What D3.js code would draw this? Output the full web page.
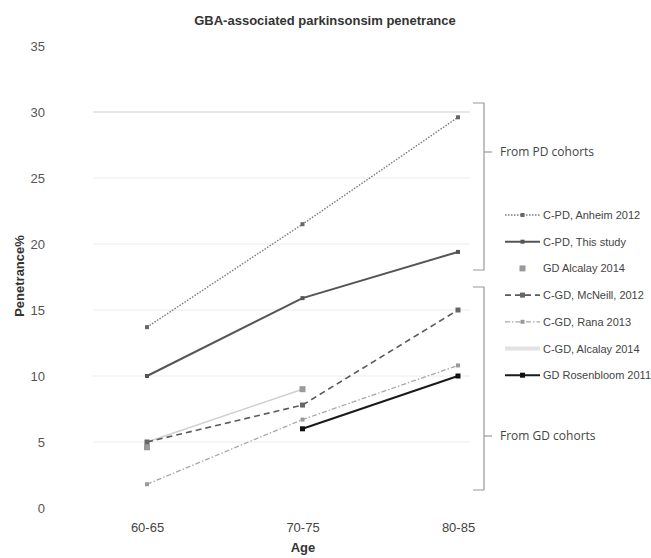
<!DOCTYPE html>
<html>
<head>
<meta charset="utf-8">
<script src="https://cdn.jsdelivr.net/npm/d3@7"></script>
<style>
  body { margin: 0; background: #fff; }
  text { font-family: "Liberation Sans", Arial, sans-serif; }
</style>
</head>
<body>
<div id="chart"></div>
<script>
// data
const ages = ["60-65", "70-75", "80-85"];
const yTicks = [0, 5, 10, 15, 20, 25, 30, 35];
const seriesNames = ["C-PD, Anheim 2012", "C-PD, This study", "GD Alcalay 2014",
  "C-GD, McNeill, 2012", "C-GD, Rana 2013", "C-GD, Alcalay 2014", "GD Rosenbloom 2011"];
const anheim = [13.7, 21.5, 29.6];
const thisStudy = [10, 15.9, 19.4];
const gdAlcalay = [4.6, 9, null];
const mcneill = [5, 7.8, 15];
const rana = [1.8, 6.7, 10.8];
const cgdAlcalay = [5, 9, null];
const rosenbloom = [null, 6, 10];
const seriesValues = [anheim, thisStudy, gdAlcalay, mcneill, rana, cgdAlcalay, rosenbloom];

const styles = [
  { stroke: "#7a7a7a", width: 1.4, dash: "1.5,1.5", marker: "#666", msize: 4 },
  { stroke: "#555", width: 2, dash: null, marker: "#555", msize: 4 },
  { stroke: "none", width: 0, dash: null, marker: "#9a9a9a", msize: 6 },
  { stroke: "#5a5a5a", width: 1.6, dash: "6,4", marker: "#666", msize: 5 },
  { stroke: "#a8a8a8", width: 1.3, dash: "5,2,1.5,2", marker: "#999", msize: 4 },
  { stroke: "#cfcfcf", width: 1.5, dash: null, marker: null, msize: 0 },
  { stroke: "#1a1a1a", width: 2, dash: null, marker: "#111", msize: 5 }
];

const width = 651, height = 558;
const svg = d3.select("#chart").append("svg")
  .attr("width", width).attr("height", height);

const x = d3.scalePoint().domain(ages).range([147, 458]);
const y = d3.scaleLinear().domain([0, 35]).range([508, 46]);

// gridlines
svg.append("g").selectAll("line")
  .data(yTicks.filter(t => t > 0 && t < 35))
  .enter().append("line")
  .attr("x1", 93).attr("x2", 470)
  .attr("y1", d => y(d)).attr("y2", d => y(d))
  .attr("stroke", d => d === 30 ? "#cfcfcf" : "#ebebeb")
  .attr("stroke-width", 1.2);

// y axis labels
const yAxis = svg.append("g")
  .attr("transform", "translate(52,0)")
  .call(d3.axisLeft(y).tickValues(yTicks).tickSize(0).tickPadding(7));
yAxis.select(".domain").remove();
yAxis.selectAll("text")
  .attr("font-size", 13).attr("fill", "#555")
  .style("font-family", "Liberation Sans, Arial, sans-serif");

// x axis labels
const xAxis = svg.append("g")
  .attr("transform", "translate(0,518)")
  .call(d3.axisBottom(x).tickSize(0).tickPadding(5));
xAxis.select(".domain").remove();
xAxis.selectAll("text")
  .attr("font-size", 13).attr("fill", "#444")
  .style("font-family", "Liberation Sans, Arial, sans-serif");

svg.append("text")
  .attr("x", 325).attr("y", 25)
  .attr("text-anchor", "middle")
  .attr("font-size", 13).attr("font-weight", "bold").attr("fill", "#333")
  .text("GBA-associated parkinsonsim penetrance");

svg.append("text")
  .attr("x", 303).attr("y", 552)
  .attr("text-anchor", "middle")
  .attr("font-size", 13).attr("font-weight", "bold").attr("fill", "#333")
  .text("Age");

svg.append("text")
  .attr("transform", "translate(24,276) rotate(-90)")
  .attr("text-anchor", "middle")
  .attr("font-size", 13).attr("font-weight", "bold").attr("fill", "#333")
  .text("Penetrance%");

// lines
const line = d3.line()
  .defined(d => d.v !== null)
  .x(d => x(d.age))
  .y(d => y(d.v));

const order = [5, 4, 2, 3, 0, 1, 6];
order.forEach(i => {
  const st = styles[i];
  const pts = seriesValues[i].map((v, j) => ({ age: ages[j], v: v }));
  if (st.stroke !== "none") {
    svg.append("path")
      .datum(pts)
      .attr("d", line)
      .attr("fill", "none")
      .attr("stroke", st.stroke)
      .attr("stroke-width", st.width)
      .attr("stroke-dasharray", st.dash);
  }
  if (st.marker) {
    svg.append("g").selectAll("rect")
      .data(pts.filter(d => d.v !== null))
      .enter().append("rect")
      .attr("x", d => x(d.age) - st.msize / 2)
      .attr("y", d => y(d.v) - st.msize / 2)
      .attr("width", st.msize).attr("height", st.msize)
      .attr("fill", st.marker);
  }
});

// legend
const legend = svg.append("g");
seriesNames.forEach((name, i) => {
  const st = styles[i];
  const ly = 215 + i * 26.7;
  if (st.stroke !== "none") {
    legend.append("line")
      .attr("x1", 505).attr("x2", 540)
      .attr("y1", ly).attr("y2", ly)
      .attr("stroke", i === 5 ? "#e2e2e2" : st.stroke)
      .attr("stroke-width", i === 5 ? 4 : st.width)
      .attr("stroke-dasharray", st.dash);
  }
  if (st.marker) {
    legend.append("rect")
      .attr("x", 522.5 - st.msize / 2).attr("y", ly - st.msize / 2)
      .attr("width", st.msize).attr("height", st.msize)
      .attr("fill", st.marker);
  }
  legend.append("text")
    .attr("x", 543).attr("y", ly + 4)
    .attr("font-size", 11).attr("fill", "#444")
    .text(name);
});

// brackets
function bracket(top, bottom, mid, label) {
  const g = svg.append("g").attr("stroke", "#999").attr("fill", "none").attr("stroke-width", 1.2);
  g.append("path").attr("d",
    `M473,${top}H484V${bottom}H473`);
  g.append("line").attr("x1", 484).attr("x2", 492).attr("y1", mid).attr("y2", mid);
  svg.append("text")
    .attr("x", 500).attr("y", mid + 4)
    .attr("font-size", 12).attr("fill", "#444")
    .style("font-family", "Open Sans, sans-serif")
    .text(label);
}
bracket(103, 270, 152, "From PD cohorts");
bracket(287, 490, 436, "From GD cohorts");
</script>
</body>
</html>
